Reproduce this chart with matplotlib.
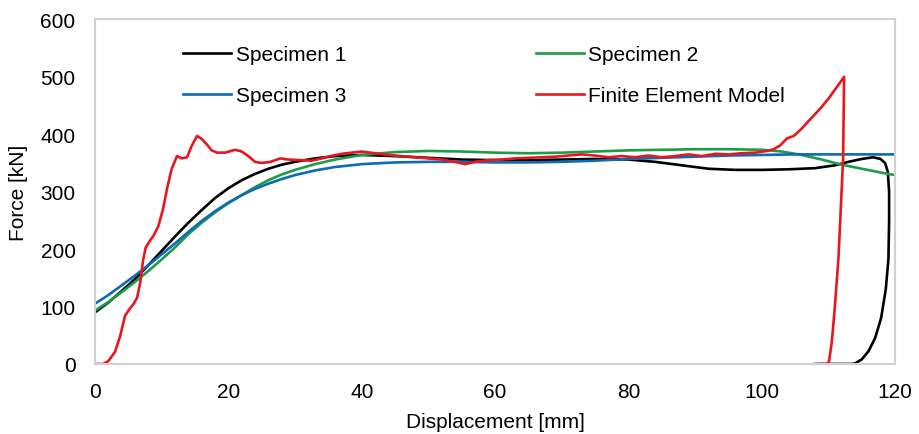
import matplotlib.pyplot as plt

plt.rcParams['font.family'] = ['Liberation Sans', 'DejaVu Sans']

# Specimen 1
s1_x = [0, 2, 4, 6, 8, 10, 12, 14, 16, 18, 20, 22, 24, 26, 28, 30, 33, 36, 40, 45, 50, 55, 60, 65, 70, 75,
        80, 84, 88, 92, 96, 100, 104, 108, 111, 113, 115, 116.7, 117.8, 118.5, 118.9, 119.1, 119.1, 119.0,
        118.6, 117.9, 117.0, 116.0, 115.0, 114.0, 113.5, 108]
s1_y = [90, 107, 127, 148, 172, 197, 222, 246, 268, 289, 306, 320, 331, 340, 347, 352, 358, 362, 364, 362,
        359, 356, 355, 355, 356, 357, 356, 352, 346, 340, 338, 338, 339, 341, 346, 352, 357, 360, 357, 350,
        335, 300, 250, 183, 130, 80, 45, 22, 8, 1, 0, 0]

# Specimen 2
s2_x = [0, 2, 4, 6, 8, 10, 12, 14, 16, 18, 20, 22, 24, 26, 28, 30, 33, 36, 40, 45, 50, 55, 60, 65, 70, 75,
        80, 85, 90, 95, 100, 103, 106, 109, 112, 115, 118, 120]
s2_y = [93, 108, 125, 143, 162, 182, 203, 226, 246, 264, 280, 294, 308, 320, 330, 338, 348, 356, 364, 369,
        371, 370, 368, 367, 368, 370, 372, 373, 374, 374, 373, 370, 364, 356, 347, 340, 333, 329]

# Specimen 3
s3_x = [0, 2, 4, 6, 8, 10, 12, 14, 16, 18, 20, 22, 24, 26, 28, 30, 33, 36, 40, 45, 50, 55, 60, 65, 70, 75,
        80, 85, 90, 95, 100, 105, 110, 115, 120]
s3_y = [105, 120, 137, 154, 172, 191, 210, 230, 249, 266, 281, 294, 305, 314, 322, 329, 337, 343, 348, 351,
        352, 352, 351, 351, 352, 354, 357, 359, 361, 363, 364, 365, 365, 365, 365]

# Finite Element Model
fem_x = [0, 1.2, 2, 3, 3.8, 4.5, 5.2, 5.8, 6.3, 6.8, 7.2, 7.6, 8.2, 8.8, 9.5, 10.2, 10.8, 11.5, 12.3, 13.0,
         13.8, 14.5, 15.3, 16.0, 16.8, 17.5, 18.3, 19.5, 21.0, 22.0, 23.0, 24.0, 25.0, 26.3, 27.8, 29.0,
         30.8, 32.5, 34.0, 35.3, 37.0, 38.5, 40, 42, 44, 46, 48, 50, 52, 54, 55.5, 57, 59, 61, 63, 65, 67,
         69, 71, 73, 75, 77, 79, 81, 83, 85, 87, 89, 91, 93, 95, 97, 99, 100.8, 101.8, 102.8, 103.8, 104.8,
         106, 107, 108, 109, 110, 111, 112.35, 112.2, 111.5, 110.9, 110.5, 110.1, 109.8, 108.7]
fem_y = [0, 0, 5, 21, 50, 84, 96, 105, 115, 143, 180, 203, 214, 224, 240, 270, 305, 340, 362, 358,
         360, 380, 397, 392, 382, 372, 368, 368, 373, 370, 362, 352, 350, 352, 358, 356,
         355, 354, 358, 362, 366, 368, 370, 367, 364, 362, 360, 358, 356, 352, 348, 352, 355, 356, 358, 359,
         360, 361, 363, 365, 363, 360, 362, 360, 363, 360, 362, 365, 362, 366, 365, 367, 368, 371, 374,
         381, 393, 397, 410, 423, 435, 448, 462, 478, 500, 357, 183, 90, 38, 5, 0, 0]

x_ticks = [0, 20, 40, 60, 80, 100, 120]
y_ticks = [0, 100, 200, 300, 400, 500, 600]

fig = plt.figure(figsize=(9.19, 4.35), dpi=100)
ax = fig.add_axes([0.1034, 0.161, 0.8706, 0.792])

lw = 1.9
l1, = ax.plot(s1_x, s1_y, color='black', lw=lw, label='Specimen 1')
l2, = ax.plot(s2_x, s2_y, color='#1c9c48', lw=lw, label='Specimen 2')
l3, = ax.plot(s3_x, s3_y, color='#0b6cb6', lw=lw, label='Specimen 3')
l4, = ax.plot(fem_x, fem_y, color='#e8161f', lw=lw, label='Finite Element Model')

ax.set_xlim(0, 120)
ax.set_ylim(0, 600)
ax.set_xticks(x_ticks)
ax.set_yticks(y_ticks)
ax.tick_params(axis='both', length=0, labelsize=15)
ax.tick_params(axis='y', pad=14)
ax.tick_params(axis='x', pad=13)
for sp in ax.spines.values():
    sp.set_color('#d0d0d0')
    sp.set_linewidth(1.5)

ax.set_xlabel('Displacement [mm]', fontsize=15, labelpad=8)
ax.set_ylabel('Force [kN]', fontsize=15, labelpad=9)

# legend filled row by row, as in the original
ax.legend([l1, l3, l2, l4], ['Specimen 1', 'Specimen 3', 'Specimen 2', 'Finite Element Model'],
          ncol=2, frameon=False, loc='upper left', bbox_to_anchor=(0.11, 0.926),
          fontsize=15, handlelength=2.3, handletextpad=0.23, columnspacing=9.1,
          labelspacing=1.08, borderpad=0, borderaxespad=0)

fig.savefig('out.png', dpi=100)
